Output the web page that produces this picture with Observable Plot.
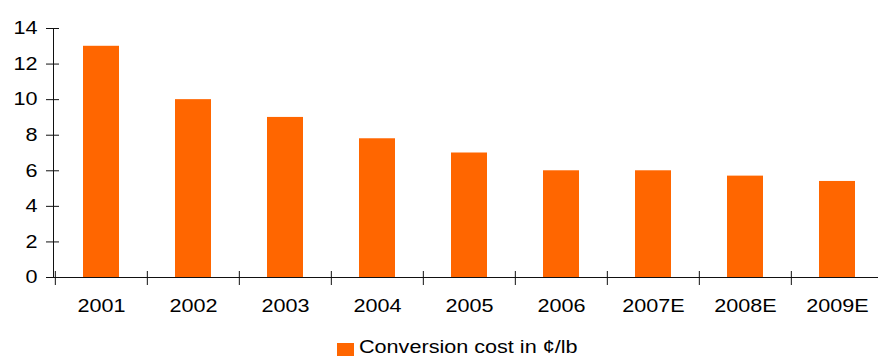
<!DOCTYPE html>
<html>
<head>
<meta charset="utf-8">
<script src="https://cdn.jsdelivr.net/npm/d3@7"></script>
<script src="https://cdn.jsdelivr.net/npm/@observablehq/plot@0.6"></script>
<style>
  html, body { margin: 0; padding: 0; background: #fff; }
  #chart { position: relative; width: 878px; height: 356px; overflow: hidden; }
  #chart svg { display: block; }
  .legend { position: absolute; left: 337px; top: 337px; height: 20px; display: flex; align-items: flex-start; }
  .legend .swatch { width: 17px; height: 16px; background: #ff6600; margin-top: 6px; }
  .legend .label { margin-left: 5px; font: 18px/20px "Liberation Sans", Arial, sans-serif; color: #000;
    white-space: nowrap; transform: scaleX(1.2); transform-origin: left center; }
</style>
</head>
<body>
<div id="chart"></div>
<script>
// Conversion cost by year (estimates marked with E)
const years = ["2001", "2002", "2003", "2004", "2005", "2006", "2007E", "2008E", "2009E"];
const costs = [13, 10, 9, 7.8, 7, 6, 6, 5.7, 5.4];
const yTicks = [0, 2, 4, 6, 8, 10, 12, 14];
const seriesName = "Conversion cost in ¢/lb";

const data = years.map((year, i) => ({year, cost: costs[i]}));

const width = 878, height = 326;
const marginLeft = 53, marginRight = -6, marginTop = 28, marginBottom = 49;
const plotW = width - marginLeft - marginRight;
const plotH = height - marginTop - marginBottom;
const step = plotW / years.length;
const ink = "#111";

const chart = Plot.plot({
  width, height, marginLeft, marginRight, marginTop, marginBottom,
  style: {fontFamily: "'Liberation Sans', Arial, sans-serif", fontSize: "18px", color: "#000", background: "#fff"},
  x: {domain: years, paddingInner: 0.61, paddingOuter: 0.305, align: 0.5},
  y: {domain: [0, 14]},
  marks: [
    Plot.barY(data, {x: "year", y: "cost", fill: "#ff6600"}),
    // axis lines
    Plot.ruleY([0], {stroke: ink, strokeWidth: 1}),
    Plot.frame({anchor: "left", stroke: ink, strokeWidth: 1}),
    // y ticks crossing the axis
    Plot.tickY(yTicks, {y: d => d, stroke: ink, insetLeft: -7, insetRight: plotW - 6}),
    // category boundary ticks crossing the x axis
    Plot.tickX(years, {x: d => d, dx: -step / 2, stroke: ink, insetTop: plotH - 6, insetBottom: -8}),
    Plot.axisX({tickSize: 0, tickPadding: 22, label: null, fill: "#000"}),
    Plot.axisY({ticks: yTicks, tickSize: 0, tickPadding: 16, label: null, fill: "#000"})
  ]
});

// widen the label glyphs horizontally around their anchor points
d3.select(chart).selectAll("text").each(function () {
  const t = this.getAttribute("transform");
  if (t) this.setAttribute("transform", t + " scale(1.2,1)");
  else {
    const x = +this.getAttribute("x") || 0;
    this.setAttribute("transform", `translate(${x},0) scale(1.2,1) translate(${-x},0)`);
  }
});

const root = document.getElementById("chart");
root.appendChild(chart);

const legend = document.createElement("div");
legend.className = "legend";
legend.innerHTML = `<div class="swatch"></div><div class="label"></div>`;
legend.querySelector(".label").textContent = seriesName;
root.appendChild(legend);
</script>
</body>
</html>
